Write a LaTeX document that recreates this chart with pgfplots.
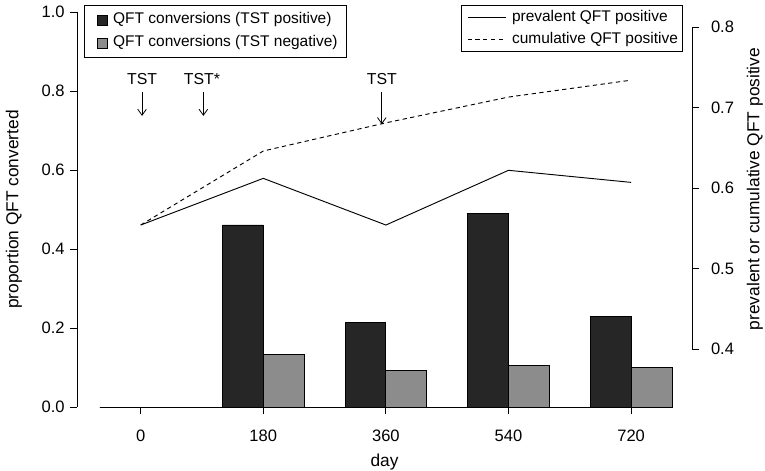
\documentclass[border=0pt]{standalone}
\usepackage{fontspec}
\setmainfont{Liberation Sans}
\usepackage{pgfplots}
\pgfplotsset{compat=1.18}
\usetikzlibrary{arrows.meta}

\definecolor{barDark}{gray}{0.15}
\definecolor{barLight}{gray}{0.55}
\newcommand\tickfont{\fontsize{12.4}{14}\selectfont}
\newcommand\labfont{\fontsize{13}{15}\selectfont}
\newcommand\legfont{\fontsize{11.6}{14}\selectfont}
\newcommand\notefont{\fontsize{11.9}{14}\selectfont}

% 1px of the reference = 0.75pt
\pgfplotsset{
  rstyle/.style={
    width=461.25pt, height=296.25pt, scale only axis,
    xmin=-93.5, xmax=809.4,
    tick align=outside, major tick length=5.25pt,
    tick style={black, line width=0.6pt},
    tick label style={font=\tickfont},
    label style={font=\labfont},
    clip=false,
  },
}

\begin{document}
\begin{tikzpicture}
% left axis: bars
\begin{axis}[rstyle,
  ymin=0, ymax=1,
  axis y line*=left, axis x line*=bottom,
  x axis line style={draw=none},
  y axis line style={-, line width=0.6pt},
  xtick={0,180,360,540,720}, xticklabels={0,180,360,540,720},
  xticklabel style={yshift=-8.5pt},
  ytick={0,0.2,0.4,0.6,0.8,1.0}, yticklabels={0.0,0.2,0.4,0.6,0.8,1.0},
  yticklabel style={xshift=-0.5pt},
  xlabel={day}, ylabel={proportion QFT converted},
  xlabel style={at={(axis description cs:0.5,-0.139)}, anchor=center},
  ylabel style={at={(axis description cs:-0.1024,0.5)}, anchor=center},
  legend image code/.code={
    \path (-3pt,0pt);
    \draw[#1, line width=0.6pt] (0pt,-3.75pt) rectangle (7.5pt,3.75pt);},
  legend style={at={(axis description cs:0.0114,1.0177)}, anchor=north west,
    draw=black, line width=0.6pt, fill=white, font=\legfont,
    inner xsep=6.75pt, inner ysep=5.4pt, row sep=6.25pt, column sep=3.75pt,
    cells={anchor=west},
    nodes={inner sep=0pt, text height=8.5pt, text depth=2.5pt}},
]
\addplot[black, line width=0.6pt, forget plot] coordinates {(-60,0) (780,0)};
\addplot[ybar, bar width=60, bar shift=-30, fill=barDark, draw=black, line width=0.6pt]
  coordinates {(0,0) (180,0.461) (360,0.213) (540,0.489) (720,0.230)};
\addplot[ybar, bar width=60, bar shift=30, fill=barLight, draw=black, line width=0.6pt]
  coordinates {(0,0) (180,0.134) (360,0.092) (540,0.106) (720,0.100)};
\legend{QFT conversions (TST positive), QFT conversions (TST negative)}

\node[font=\notefont] at (axis cs:2,0.830) {TST};
\node[font=\notefont] at (axis cs:90,0.830) {TST*};
\node[font=\notefont] at (axis cs:354,0.830) {TST};
\draw[-{Straight Barb[length=4.5pt,width=6.5pt]}, line width=0.6pt] (axis cs:2,0.797) -- (axis cs:2,0.737);
\draw[-{Straight Barb[length=4.5pt,width=6.5pt]}, line width=0.6pt] (axis cs:92,0.797) -- (axis cs:92,0.737);
\draw[-{Straight Barb[length=4.5pt,width=6.5pt]}, line width=0.6pt] (axis cs:354,0.797) -- (axis cs:354,0.716);

\coordinate (bl) at (axis description cs:-0.1252,-0.1595);
\coordinate (tr) at (axis description cs:1.1187,1.0304);
\end{axis}

% right axis: prevalence lines
\begin{axis}[rstyle,
  ymin=0.3279, ymax=0.8187,
  axis x line=none, axis y line*=right,
  y axis line style={draw=none},
  ytick={0.4,0.5,0.6,0.7,0.8}, yticklabels={0.4,0.5,0.6,0.7,0.8},
  yticklabel style={xshift=5.5pt},
  ylabel={prevalent or cumulative QFT positive},
  ylabel style={at={(axis description cs:1.1024,0.552)}, anchor=center},
  legend image code/.code={
    \path (-0.8pt,0pt);
    \draw[#1] (0pt,0pt) -- (28.5pt,0pt);},
  legend style={at={(axis description cs:0.9854,1.0177)}, anchor=north east,
    draw=black, line width=0.6pt, fill=white, font=\legfont,
    inner xsep=3.5pt, inner ysep=3.25pt, row sep=6pt, column sep=4.5pt,
    cells={anchor=west},
    nodes={inner sep=0pt, text height=8.5pt, text depth=2.5pt}},
]
\addplot[black, line width=0.7pt] coordinates
  {(0,0.554) (180,0.612) (360,0.554) (540,0.622) (720,0.607)};
\addplot[black, line width=0.7pt, dash pattern=on 3.2pt off 2.6pt] coordinates
  {(0,0.554) (180,0.646) (360,0.681) (540,0.713) (720,0.734)};
\legend{prevalent QFT positive, cumulative QFT positive}
\draw[line width=0.6pt] (axis cs:809.4,0.4) -- (axis cs:809.4,0.8);
\end{axis}
\pgfresetboundingbox
\path (bl) rectangle (tr);
\end{tikzpicture}
\end{document}
